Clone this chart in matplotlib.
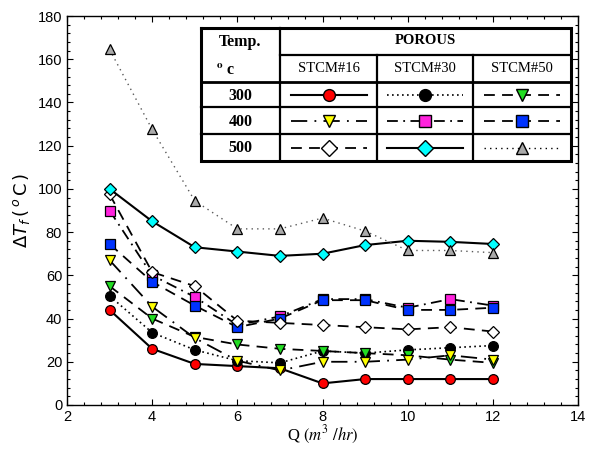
import matplotlib
matplotlib.use("Agg")
import matplotlib.pyplot as plt
from matplotlib.ticker import MultipleLocator, AutoMinorLocator
from matplotlib.lines import Line2D

Q = [3, 4, 5, 6, 7, 8, 9, 10, 11, 12]

s16_300 = [44, 26, 19, 18, 17, 10, 12, 12, 12, 12]
s30_300 = [50.5, 33.5, 25.5, 20.5, 19.5, 25, 24, 25.5, 26.5, 27.5]
s50_300 = [55, 40, 31.5, 28, 26, 25, 24, 23, 21, 19.5]
s16_400 = [67, 45.5, 31, 20.5, 16, 20, 20, 21, 23, 21]
s30_400 = [90, 60, 50, 37, 41, 49, 49, 45, 49, 46]
s50_400 = [74.5, 57, 46, 36, 40, 48.5, 48.5, 44, 44, 45]
s16_500 = [97.5, 61.5, 55, 39, 38, 37, 36, 35, 36, 34]
s30_500 = [100, 85, 73, 71, 69, 70, 74, 76, 75.5, 74.5]
s50_500 = [164.5, 127.5, 94.5, 81.5, 81.5, 86.5, 80.5, 71.5, 71.5, 70.5]

temps = ["300", "400", "500"]
porous = ["STCM#16", "STCM#30", "STCM#50"]

# style per (temp row, porous col)
series = [
    [s16_300, s30_300, s50_300],
    [s16_400, s30_400, s50_400],
    [s16_500, s30_500, s50_500],
]
styles = [
    [dict(ls="-", marker="o", mfc="#ff0000", ms=7, color="k", lw=1.5),
     dict(ls=(0, (1, 2)), marker="o", mfc="#000000", ms=7, color="k", lw=1.2),
     dict(ls=(0, (6, 4)), marker="v", mfc="#22dd22", ms=7.5, color="k", lw=1.3)],
    [dict(ls=(0, (9, 4, 1, 4)), marker="v", mfc="#ffff00", ms=7.5, color="k", lw=1.3),
     dict(ls=(0, (6, 3, 1, 3)), marker="s", mfc="#ff22dd", ms=7, color="k", lw=1.3),
     dict(ls=(0, (6, 4)), marker="s", mfc="#0033ff", ms=7, color="k", lw=1.3)],
    [dict(ls=(0, (6, 4)), marker="D", mfc="#ffffff", ms=6.5, color="k", lw=1.3),
     dict(ls="-", marker="D", mfc="#00ffff", ms=6.5, color="k", lw=1.5),
     dict(ls=(0, (1, 3)), marker="^", mfc="#aaaaaa", ms=7.5, color="0.35", lw=1.0)],
]

fig = plt.figure(figsize=(6.02, 4.5), dpi=100)
ax = fig.add_axes([67 / 602, 1 - 405 / 450, (578 - 67) / 602, (405 - 16) / 450])

for r in range(3):
    for c in range(3):
        st = dict(styles[r][c])
        ax.plot(Q, series[r][c], mec="k", mew=0.9, zorder=3, **st)

ax.set_xlim(2, 14)
ax.set_ylim(0, 180)
ax.xaxis.set_major_locator(MultipleLocator(2))
ax.yaxis.set_major_locator(MultipleLocator(20))
ax.xaxis.set_minor_locator(AutoMinorLocator(5))
ax.yaxis.set_minor_locator(AutoMinorLocator(5))
ax.tick_params(which="both", direction="in", top=True, right=True, width=0.8)
ax.tick_params(which="major", length=4, labelsize=10.5)
ax.tick_params(which="minor", length=2)
for lab in ax.get_xticklabels() + ax.get_yticklabels():
    lab.set_fontfamily("Liberation Sans")
for sp in ax.spines.values():
    sp.set_linewidth(1.0)

ax.set_xlabel(r"Q $(m^3\ /hr)$", fontfamily="Liberation Serif",
              math_fontfamily="stix", fontsize=12, labelpad=0)
ax.set_ylabel(r"$\Delta T_f\,(\,^{o}\,\mathrm{C}\,)$", math_fontfamily="dejavusans",
              fontsize=13, labelpad=4)

# legend table in pixel coordinates
ov = fig.add_axes([0, 0, 1, 1], zorder=10)
ov.set_xlim(0, 602)
ov.set_ylim(450, 0)
ov.axis("off")
ov.patch.set_alpha(0)

L, R, T, B = 201, 571, 28, 161
c1, c2, c3 = 280, 377, 473
h1, h2, r1, r2 = 55, 82, 107, 134
ov.fill([L, R, R, L], [T, T, B, B], color="white", zorder=1)
kw = dict(color="k", zorder=2)
ov.plot([L, R, R, L, L], [T, T, B, B, T], lw=2.2, solid_joinstyle="miter", **kw)
ov.plot([c1, c1], [T, B], lw=1.6, **kw)
ov.plot([c2, c2], [h1, B], lw=1.6, **kw)
ov.plot([c3, c3], [h1, B], lw=1.6, **kw)
ov.plot([c1, R], [h1, h1], lw=1.6, **kw)
ov.plot([L, R], [h2, h2], lw=2.0, **kw)
ov.plot([L, R], [r1, r1], lw=1.6, **kw)
ov.plot([L, R], [r2, r2], lw=1.6, **kw)

serif = "Liberation Serif"
ov.text((L + c1) / 2, 42, "Temp.", ha="center", va="center", fontfamily=serif,
        fontweight="bold", fontsize=11.5)
ov.text(216, 71, r"$^{\mathbf{o}}$ c", ha="left", va="center", fontfamily=serif,
        fontweight="bold", fontsize=11.5, math_fontfamily="stix")
ov.text((c1 + R) / 2, 40, "POROUS", ha="center", va="center", fontfamily=serif,
        fontweight="bold", fontsize=10.5)
ccent = [(c1 + c2) / 2, (c2 + c3) / 2, (c3 + R) / 2]
for i, p in enumerate(porous):
    ov.text(ccent[i], 68, p, ha="center", va="center", fontfamily=serif, fontsize=10.5)
rcent = [(h2 + r1) / 2, (r1 + r2) / 2, (r2 + B) / 2]
for r, t in enumerate(temps):
    ov.text((L + c1) / 2, rcent[r] + 1, t, ha="center", va="center", fontfamily=serif,
            fontweight="bold", fontsize=11.5)
    for c in range(3):
        st = dict(styles[r][c])
        mk = st.pop("marker"); mfc = st.pop("mfc"); ms = st.pop("ms")
        color = st.pop("color")
        ov.plot([ccent[c] - 38, ccent[c] + 38], [rcent[r], rcent[r]], color="k", zorder=3, **st)
        ov.plot([ccent[c]], [rcent[r]], marker=mk, mfc=mfc, mec="k", ms=ms + 1.5, mew=1.0,
                ls="none", zorder=4)

fig.savefig("out.png", dpi=100)
